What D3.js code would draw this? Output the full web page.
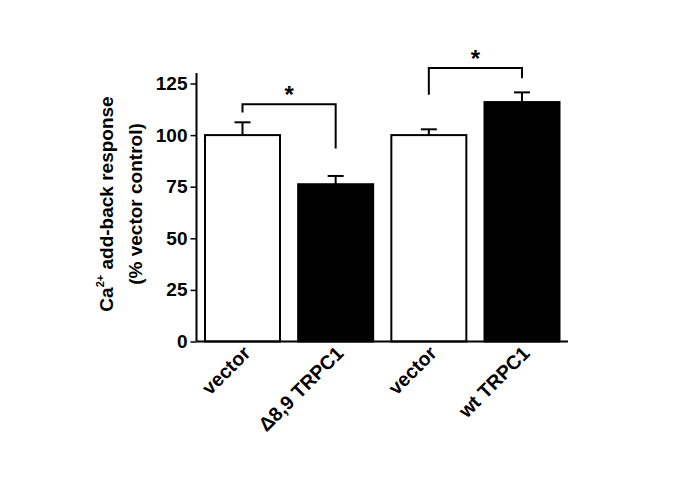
<!DOCTYPE html>
<html><head><meta charset="utf-8">
<script src="https://cdn.jsdelivr.net/npm/d3@7"></script>
<style>body{margin:0;background:#fff}svg{display:block}text{font-family:"Liberation Sans",Arial,sans-serif;font-weight:bold}</style>
</head><body>
<script>
const categories = ["vector", "\u03948,9 TRPC1", "vector", "wt TRPC1"];
const values = [100, 76.2, 100, 116];
const errors = [6.2, 4.0, 2.8, 4.7];
const fills = ["#fff", "#000", "#fff", "#000"];
const yTicks = [0, 25, 50, 75, 100, 125];
const brackets = [
  {a: 0, b: 1, top: 115, la: 111, lb: 93.5},
  {a: 2, b: 3, top: 132.5, la: 119.5, lb: 127.5}
];

const W = 685, H = 484;
const svg = d3.select("body").append("svg").attr("width", W).attr("height", H);
const axX = 196.5, x0 = 196.5, x1 = 568;
const y = d3.scaleLinear().domain([0, 125]).range([341.5, 83.5]);
const x = d3.scaleBand().domain(d3.range(categories.length)).range([x0 + 8.5, x1 - 8.5]).paddingInner(0.195).paddingOuter(0);

// bars
svg.selectAll("rect.bar").data(values).join("rect")
  .attr("x", (d, i) => x(i)).attr("width", x.bandwidth())
  .attr("y", d => y(d)).attr("height", d => y(0) - y(d))
  .attr("fill", (d, i) => fills[i]).attr("stroke", "#000").attr("stroke-width", 2);

// error bars
values.forEach((v, i) => {
  const cx = x(i) + x.bandwidth() / 2;
  svg.append("line").attr("x1", cx).attr("x2", cx).attr("y1", y(v)).attr("y2", y(v + errors[i])).attr("stroke", "#000").attr("stroke-width", 2);
  svg.append("line").attr("x1", cx - 8).attr("x2", cx + 8).attr("y1", y(v + errors[i])).attr("y2", y(v + errors[i])).attr("stroke", "#000").attr("stroke-width", 2);
});

// axes
const yAxis = d3.axisLeft(y).tickValues(yTicks).tickSize(6).tickPadding(3);
const gy = svg.append("g").attr("transform", `translate(${axX},0)`).call(yAxis);
gy.select(".domain").remove();
gy.selectAll(".tick line").attr("stroke-width", 1.5);
gy.selectAll(".tick text").attr("font-size", 19).attr("fill", "#000");
svg.append("line").attr("x1", axX).attr("x2", axX).attr("y1", 73).attr("y2", y(0)).attr("stroke", "#000").attr("stroke-width", 2);
svg.append("line").attr("x1", axX).attr("x2", x1).attr("y1", y(0)).attr("y2", y(0)).attr("stroke", "#000").attr("stroke-width", 2);

// x labels
categories.forEach((c, i) => {
  const cx = x(i) + x.bandwidth() / 2 + 9;
  svg.append("text").attr("transform", `translate(${cx},${y(0) + 13}) rotate(-45)`)
    .attr("text-anchor", "end").attr("font-size", 19.5).attr("fill", "#000").text(c);
});

// brackets
brackets.forEach(b => {
  const xa = x(b.a) + x.bandwidth() / 2, xb = x(b.b) + x.bandwidth() / 2;
  svg.append("path").attr("d", `M${xa},${y(b.la)}V${y(b.top)}H${xb}V${y(b.lb)}`)
    .attr("fill", "none").attr("stroke", "#000").attr("stroke-width", 2);
  svg.append("text").attr("x", (xa + xb) / 2).attr("y", y(b.top) - 1).attr("text-anchor", "middle")
    .attr("font-size", 24).attr("fill", "#000").text("*");
});

// y label
const lab = svg.append("g").attr("transform", `translate(0,204) rotate(-90)`);
const t1 = lab.append("text").attr("x", 0).attr("y", 113).attr("text-anchor", "middle").attr("font-size", 19).attr("fill", "#000");
t1.append("tspan").text("Ca");
t1.append("tspan").attr("font-size", 11).attr("dy", -9).text("2+");
t1.append("tspan").attr("dy", 9).text(" add-back response");
lab.append("text").attr("x", 0).attr("y", 142).attr("text-anchor", "middle").attr("font-size", 19).attr("fill", "#000").text("(% vector control)");
</script>
</body></html>
